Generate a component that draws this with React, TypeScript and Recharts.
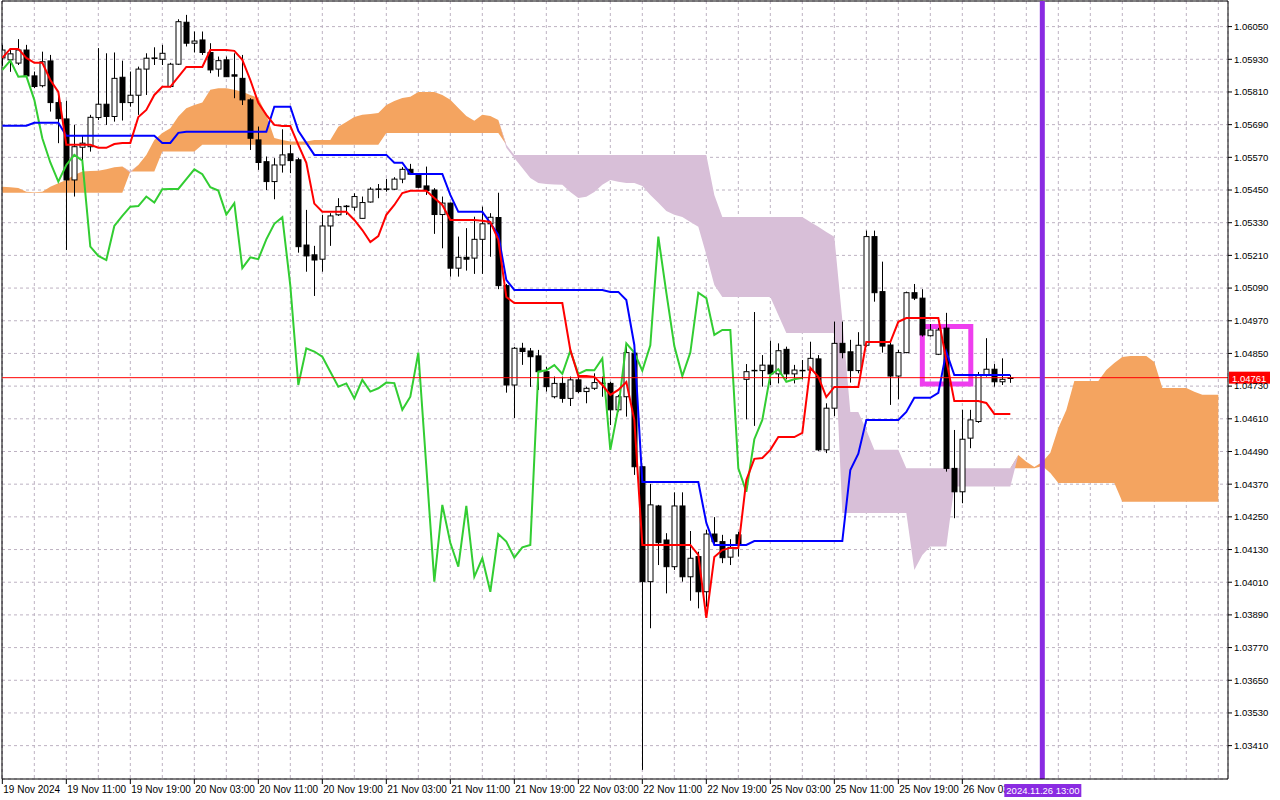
import { ComposedChart, Bar, Line, Area, XAxis, YAxis, CartesianGrid, ReferenceLine, ReferenceArea } from 'recharts';

// EURUSD H1, one entry per hourly bar starting 19 Nov 03:00
const opens = [
  1.05935, 1.05928, 1.05916, 1.05964, 1.05869, 1.05833, 1.05924, 1.05771, 1.05711, 1.05487,
  1.05607, 1.05609, 1.05716, 1.05765, 1.05720, 1.05864, 1.05771, 1.05798, 1.05894, 1.05933,
  1.05930, 1.05830, 1.05912, 1.06066, 1.05989, 1.06001, 1.05955, 1.05894, 1.05928, 1.05873,
  1.05860, 1.05781, 1.05634, 1.05554, 1.05481, 1.05542, 1.05583, 1.05561, 1.05248, 1.05212,
  1.05196, 1.05318, 1.05359, 1.05389, 1.05387, 1.05346, 1.05406, 1.05453, 1.05453, 1.05453,
  1.05490, 1.05526, 1.05508, 1.05465, 1.05450, 1.05360, 1.05402, 1.05163, 1.05203, 1.05200,
  1.05269, 1.05326, 1.05349, 1.05099, 1.04734, 1.04869, 1.04859, 1.04841, 1.04783, 1.04691,
  1.04740, 1.04685, 1.04753, 1.04710, 1.04722, 1.04740, 1.04740, 1.04643, 1.04691, 1.04851,
  1.04434, 1.04012, 1.04290, 1.04165, 1.04067, 1.04290, 1.04030, 1.04104, 1.03975, 1.04187,
  1.04159, 1.04102, 1.04184, 1.04755, 1.04787, 1.04787, 1.04807, 1.04775, 1.04865, 1.04775,
  1.04787, 1.04789, 1.04830, 1.04496, 1.04649, 1.04887, 1.04856, 1.04787, 1.04880, 1.05279,
  1.05077, 1.04881, 1.04767, 1.04853, 1.05073, 1.05053, 1.04915, 1.04847, 1.04943, 1.04428,
  1.04342, 1.04539, 1.04600, 1.04771, 1.04792, 1.04746, 1.04758,
];
const highs = [
  1.05983, 1.05968, 1.06004, 1.05983, 1.05885, 1.05958, 1.05946, 1.05805, 1.05778, 1.05689,
  1.05652, 1.05726, 1.05971, 1.05952, 1.05955, 1.05925, 1.05885, 1.05903, 1.05952, 1.05974,
  1.05983, 1.05917, 1.06077, 1.06093, 1.06032, 1.06032, 1.05989, 1.05940, 1.05940, 1.05952,
  1.05946, 1.05787, 1.05683, 1.05573, 1.05567, 1.05673, 1.05616, 1.05568, 1.05377, 1.05245,
  1.05359, 1.05365, 1.05420, 1.05395, 1.05438, 1.05426, 1.05460, 1.05472, 1.05491, 1.05497,
  1.05534, 1.05546, 1.05512, 1.05536, 1.05457, 1.05426, 1.05404, 1.05279, 1.05310, 1.05352,
  1.05389, 1.05365, 1.05440, 1.05105, 1.04874, 1.04889, 1.04870, 1.04863, 1.04801, 1.04765,
  1.04765, 1.04765, 1.04765, 1.04728, 1.04777, 1.04765, 1.04746, 1.04698, 1.04887, 1.04863,
  1.04437, 1.04371, 1.04294, 1.04190, 1.04340, 1.04340, 1.04198, 1.04122, 1.04202, 1.04249,
  1.04184, 1.04168, 1.04195, 1.04811, 1.05002, 1.04844, 1.04897, 1.04887, 1.04875, 1.04808,
  1.04826, 1.04893, 1.04844, 1.04667, 1.04967, 1.04967, 1.04900, 1.04928, 1.05301, 1.05301,
  1.05187, 1.04890, 1.04863, 1.05077, 1.05105, 1.05086, 1.04958, 1.04944, 1.04999, 1.04569,
  1.04643, 1.04643, 1.04782, 1.04906, 1.04811, 1.04832, 1.04771,
];
const lows = [
  1.05906, 1.05884, 1.05909, 1.05862, 1.05824, 1.05827, 1.05738, 1.05622, 1.05230, 1.05426,
  1.05524, 1.05591, 1.05707, 1.05689, 1.05701, 1.05705, 1.05756, 1.05726, 1.05799, 1.05909,
  1.05909, 1.05827, 1.05909, 1.05977, 1.05955, 1.05946, 1.05879, 1.05866, 1.05865, 1.05787,
  1.05762, 1.05597, 1.05524, 1.05450, 1.05416, 1.05514, 1.05512, 1.05220, 1.05150, 1.05061,
  1.05150, 1.05245, 1.05355, 1.05359, 1.05374, 1.05346, 1.05404, 1.05420, 1.05444, 1.05450,
  1.05475, 1.05505, 1.05457, 1.05432, 1.05289, 1.05236, 1.05132, 1.05132, 1.05154, 1.05142,
  1.05142, 1.05205, 1.05086, 1.04706, 1.04613, 1.04808, 1.04727, 1.04716, 1.04710, 1.04685,
  1.04669, 1.04657, 1.04704, 1.04667, 1.04716, 1.04691, 1.04587, 1.04636, 1.04618, 1.04404,
  1.03321, 1.03841, 1.04073, 1.03969, 1.04055, 1.04012, 1.03942, 1.03914, 1.03920, 1.04147,
  1.04080, 1.04073, 1.04104, 1.04608, 1.04584, 1.04728, 1.04734, 1.04740, 1.04755, 1.04740,
  1.04755, 1.04777, 1.04492, 1.04484, 1.04620, 1.04832, 1.04743, 1.04777, 1.04875, 1.05040,
  1.04853, 1.04661, 1.04682, 1.04851, 1.05046, 1.04912, 1.04912, 1.04844, 1.04416, 1.04245,
  1.04300, 1.04502, 1.04595, 1.04765, 1.04728, 1.04734, 1.04742,
];
const closes = [
  1.05964, 1.05950, 1.05964, 1.05869, 1.05830, 1.05921, 1.05771, 1.05712, 1.05487, 1.05609,
  1.05622, 1.05717, 1.05765, 1.05720, 1.05860, 1.05771, 1.05798, 1.05894, 1.05934, 1.05935,
  1.05952, 1.05912, 1.06068, 1.05989, 1.05997, 1.05955, 1.05891, 1.05925, 1.05866, 1.05868,
  1.05781, 1.05640, 1.05551, 1.05481, 1.05542, 1.05579, 1.05558, 1.05242, 1.05208, 1.05193,
  1.05318, 1.05355, 1.05389, 1.05391, 1.05426, 1.05404, 1.05453, 1.05454, 1.05454, 1.05490,
  1.05526, 1.05508, 1.05460, 1.05448, 1.05360, 1.05402, 1.05163, 1.05203, 1.05196, 1.05269,
  1.05326, 1.05350, 1.05099, 1.04734, 1.04869, 1.04857, 1.04838, 1.04783, 1.04728, 1.04740,
  1.04685, 1.04753, 1.04710, 1.04722, 1.04743, 1.04741, 1.04643, 1.04691, 1.04853, 1.04434,
  1.04012, 1.04294, 1.04155, 1.04067, 1.04290, 1.04030, 1.04098, 1.03975, 1.04187, 1.04159,
  1.04100, 1.04138, 1.04147, 1.04783, 1.04788, 1.04807, 1.04775, 1.04860, 1.04775, 1.04789,
  1.04788, 1.04832, 1.04496, 1.04649, 1.04887, 1.04853, 1.04787, 1.04880, 1.05279, 1.05073,
  1.04877, 1.04767, 1.04853, 1.05073, 1.05053, 1.04918, 1.04936, 1.04936, 1.04428, 1.04342,
  1.04535, 1.04606, 1.04771, 1.04792, 1.04746, 1.04755, 1.04761,
];

// Ichimoku lines
const tenkan = [
  1.05935, 1.05968, 1.05968, 1.05935, 1.05917, 1.05917, 1.05854, 1.05810, 1.05616, 1.05616,
  1.05616, 1.05616, 1.05605, 1.05605, 1.05619, 1.05623, 1.05623, 1.05718, 1.05744, 1.05799,
  1.05829, 1.05829, 1.05865, 1.05902, 1.05902, 1.05902, 1.05964, 1.05964, 1.05964, 1.05961,
  1.05928, 1.05854, 1.05770, 1.05726, 1.05689, 1.05685, 1.05685, 1.05616, 1.05550, 1.05400,
  1.05370, 1.05370, 1.05370, 1.05370, 1.05340, 1.05303, 1.05259, 1.05281, 1.05359, 1.05395,
  1.05439, 1.05447, 1.05447, 1.05447, 1.05421, 1.05395, 1.05340, 1.05340, 1.05340, 1.05340,
  1.05337, 1.05333, 1.05267, 1.05057, 1.05035, 1.05035, 1.05035, 1.05035, 1.05035, 1.05035,
  1.05035, 1.04863, 1.04767, 1.04767, 1.04764, 1.04734, 1.04698, 1.04716, 1.04745, 1.04606,
  1.04147, 1.04147, 1.04147, 1.04147, 1.04147, 1.04147, 1.04147, 1.04110, 1.03879, 1.04103,
  1.04128, 1.04136, 1.04136, 1.04385, 1.04463, 1.04466, 1.04496, 1.04543, 1.04543, 1.04543,
  1.04558, 1.04797, 1.04764, 1.04690, 1.04727, 1.04727, 1.04727, 1.04727, 1.04892, 1.04892,
  1.04892, 1.04892, 1.04966, 1.04980, 1.04980, 1.04980, 1.04980, 1.04980, 1.04826, 1.04675,
  1.04675, 1.04675, 1.04675, 1.04668, 1.04628, 1.04628, 1.04628,
];
const kijun = [
  1.05686, 1.05686, 1.05686, 1.05686, 1.05697, 1.05697, 1.05697, 1.05697, 1.05649, 1.05649,
  1.05649, 1.05649, 1.05649, 1.05649, 1.05649, 1.05649, 1.05649, 1.05649, 1.05649, 1.05649,
  1.05623, 1.05623, 1.05660, 1.05664, 1.05664, 1.05664, 1.05664, 1.05664, 1.05664, 1.05664,
  1.05664, 1.05664, 1.05664, 1.05664, 1.05756, 1.05756, 1.05756, 1.05667, 1.05623, 1.05579,
  1.05579, 1.05579, 1.05579, 1.05579, 1.05579, 1.05579, 1.05579, 1.05579, 1.05579, 1.05550,
  1.05550, 1.05509, 1.05509, 1.05509, 1.05509, 1.05509, 1.05432, 1.05370, 1.05370, 1.05370,
  1.05370, 1.05329, 1.05285, 1.05120, 1.05083, 1.05083, 1.05083, 1.05083, 1.05083, 1.05083,
  1.05083, 1.05083, 1.05083, 1.05083, 1.05083, 1.05083, 1.05076, 1.05076, 1.05046, 1.04881,
  1.04378, 1.04378, 1.04378, 1.04378, 1.04378, 1.04378, 1.04378, 1.04378, 1.04228, 1.04147,
  1.04147, 1.04147, 1.04147, 1.04147, 1.04161, 1.04161, 1.04161, 1.04161, 1.04161, 1.04161,
  1.04161, 1.04161, 1.04161, 1.04161, 1.04161, 1.04161, 1.04422, 1.04482, 1.04606, 1.04606,
  1.04606, 1.04606, 1.04606, 1.04635, 1.04687, 1.04687, 1.04687, 1.04705, 1.04856, 1.04771,
  1.04771, 1.04771, 1.04771, 1.04771, 1.04771, 1.04771, 1.04771,
];
// senkou spans run 26 bars past the last candle
const senkouA = [
  1.05462, 1.05460, 1.05457, 1.05444, 1.05442, 1.05444, 1.05462, 1.05475, 1.05487, 1.05505,
  1.05518, 1.05520, 1.05521, 1.05526, 1.05534, 1.05536, 1.05513, 1.05542, 1.05579, 1.05634,
  1.05659, 1.05677, 1.05720, 1.05750, 1.05762, 1.05771, 1.05818, 1.05824, 1.05824, 1.05818,
  1.05811, 1.05799, 1.05788, 1.05726, 1.05641, 1.05634, 1.05628, 1.05628, 1.05628, 1.05634,
  1.05634, 1.05634, 1.05682, 1.05700, 1.05718, 1.05726, 1.05729, 1.05733, 1.05762, 1.05777,
  1.05788, 1.05792, 1.05810, 1.05810, 1.05810, 1.05799, 1.05781, 1.05751, 1.05722, 1.05704,
  1.05726, 1.05722, 1.05707, 1.05605, 1.05568, 1.05531, 1.05494, 1.05476, 1.05472, 1.05470,
  1.05469, 1.05443, 1.05421, 1.05425, 1.05443, 1.05469, 1.05487, 1.05480, 1.05476, 1.05476,
  1.05465, 1.05432, 1.05403, 1.05373, 1.05359, 1.05351, 1.05333, 1.05315, 1.05212, 1.05101,
  1.05057, 1.05057, 1.05057, 1.05057, 1.05057, 1.05057, 1.05057, 1.04991, 1.04925, 1.04925,
  1.04925, 1.04925, 1.04925, 1.04925, 1.04925, 1.04264, 1.04264, 1.04264, 1.04264, 1.04264,
  1.04264, 1.04264, 1.04264, 1.04264, 1.04055, 1.04110, 1.04141, 1.04141, 1.04141, 1.04361,
  1.04361, 1.04361, 1.04361, 1.04361, 1.04361, 1.04361, 1.04361, 1.04477, 1.04452, 1.04433,
  1.04451, 1.04485, 1.04576, 1.04642, 1.04749, 1.04749, 1.04749, 1.04749, 1.04789, 1.04815,
  1.04837, 1.04841, 1.04841, 1.04841, 1.04819, 1.04723, 1.04723, 1.04723, 1.04723, 1.04709,
  1.04698, 1.04698, 1.04698,
];
const senkouB = [
  1.05440, 1.05440, 1.05440, 1.05440, 1.05440, 1.05440, 1.05440, 1.05440, 1.05440, 1.05440,
  1.05440, 1.05440, 1.05440, 1.05440, 1.05440, 1.05440, 1.05518, 1.05518, 1.05518, 1.05518,
  1.05591, 1.05591, 1.05591, 1.05591, 1.05591, 1.05616, 1.05616, 1.05616, 1.05616, 1.05616,
  1.05616, 1.05616, 1.05616, 1.05616, 1.05616, 1.05616, 1.05616, 1.05616, 1.05616, 1.05616,
  1.05616, 1.05616, 1.05616, 1.05616, 1.05616, 1.05616, 1.05616, 1.05616, 1.05659, 1.05659,
  1.05659, 1.05659, 1.05659, 1.05659, 1.05659, 1.05659, 1.05659, 1.05659, 1.05659, 1.05659,
  1.05659, 1.05659, 1.05659, 1.05616, 1.05579, 1.05579, 1.05579, 1.05579, 1.05579, 1.05579,
  1.05579, 1.05579, 1.05579, 1.05579, 1.05579, 1.05579, 1.05579, 1.05579, 1.05579, 1.05579,
  1.05579, 1.05579, 1.05579, 1.05579, 1.05579, 1.05579, 1.05579, 1.05579, 1.05579, 1.05432,
  1.05351, 1.05351, 1.05351, 1.05351, 1.05351, 1.05351, 1.05351, 1.05351, 1.05351, 1.05351,
  1.05351, 1.05333, 1.05315, 1.05296, 1.05278, 1.04973, 1.04635, 1.04635, 1.04569, 1.04496,
  1.04496, 1.04496, 1.04496, 1.04428, 1.04428, 1.04428, 1.04428, 1.04428, 1.04428, 1.04428,
  1.04428, 1.04428, 1.04428, 1.04428, 1.04428, 1.04428, 1.04428, 1.04428, 1.04428, 1.04428,
  1.04437, 1.04411, 1.04374, 1.04374, 1.04374, 1.04374, 1.04374, 1.04374, 1.04374, 1.04374,
  1.04305, 1.04305, 1.04305, 1.04305, 1.04305, 1.04305, 1.04305, 1.04305, 1.04305, 1.04305,
  1.04305, 1.04305, 1.04305,
];
const CHIKOU_SHIFT = 26;

const tickBars = [0, 8, 16, 24, 32, 40, 48, 56, 64, 72, 80, 88, 96, 104, 112, 120];
const tickLabels = [
  '19 Nov 2024', '19 Nov 11:00', '19 Nov 19:00', '20 Nov 03:00', '20 Nov 11:00', '20 Nov 19:00',
  '21 Nov 03:00', '21 Nov 11:00', '21 Nov 19:00', '22 Nov 03:00', '22 Nov 11:00', '22 Nov 19:00',
  '25 Nov 03:00', '25 Nov 11:00', '25 Nov 19:00', '26 Nov 03:00',
];
const gridBars = [
  0, 4, 8, 12, 16, 20, 24, 28, 32, 36, 40, 44, 48, 52, 56, 60, 64, 68, 72, 76,
  80, 84, 88, 92, 96, 100, 104, 108, 112, 116, 120, 124, 128, 130, 132, 136, 140, 144, 148, 152,
];
const priceTicks = [
  1.0605, 1.0593, 1.0581, 1.0569, 1.0557, 1.0545, 1.0533, 1.0521, 1.0509, 1.0497, 1.0485, 1.0473,
  1.0461, 1.0449, 1.0437, 1.0425, 1.0413, 1.0401, 1.0389, 1.0377, 1.0365, 1.0353, 1.0341,
];

const LAST_PRICE = 1.04761;
const MARK_BAR = 130;
const MARK_LABEL = '2024.11.26 13:00';
const BOX = { x1: 115, x2: 121.06, y1: 1.04738, y2: 1.04949 };

const X_MIN = -0.04;
const X_MAX = 153.21;
const Y_MIN = 1.032875;
const Y_MAX = 1.06144;

const FONT = '"Liberation Sans", Arial, sans-serif';

const rows = senkouA.map((a, i) => {
  const b = senkouB[i];
  const has = i < closes.length;
  return {
    i,
    range: has ? [lows[i], highs[i]] : null,
    o: has ? opens[i] : null,
    h: has ? highs[i] : null,
    l: has ? lows[i] : null,
    c: has ? closes[i] : null,
    tenkan: i < tenkan.length ? tenkan[i] : null,
    kijun: i < kijun.length ? kijun[i] : null,
    chikou: i + CHIKOU_SHIFT < closes.length ? closes[i + CHIKOU_SHIFT] : null,
    bull: [b, Math.max(a, b)],
    bear: [a, Math.max(a, b)],
  };
});

function Candle(props: any) {
  const { x, width, payload } = props;
  let { y, height } = props;
  if (!payload || payload.o == null) return null;
  if (height < 0) {
    y += height;
    height = -height;
  }
  const { o, h, l, c } = payload;
  const k = h === l ? 0 : height / (h - l);
  const py = (v: number) => y + (h - v) * k;
  const cx = Math.round(x + width / 2) + 0.5;
  const top = py(Math.max(o, c));
  const bot = py(Math.min(o, c));
  const bull = c >= o;
  return (
    <g>
      <line x1={cx} x2={cx} y1={y} y2={y + height} stroke="#000" strokeWidth={1} />
      <rect
        x={cx - 2.5}
        y={top}
        width={5}
        height={Math.max(bot - top, 0.5)}
        fill={bull ? '#fff' : '#000'}
        stroke="#000"
        strokeWidth={1}
      />
    </g>
  );
}

// time labels under the axis; the marker label is drawn last so it covers its neighbour
function XTick(props: any) {
  const { x, y, payload } = props;
  if (payload.value === MARK_BAR) {
    return (
      <g>
        <rect x={x - 38} y={y + 5} width={77} height={13} fill="#8A2BE2" />
        <text x={x - 36} y={y + 15} fontSize={9.5} fontFamily={FONT} fill="#fff">
          {MARK_LABEL}
        </text>
      </g>
    );
  }
  const idx = tickBars.indexOf(payload.value);
  if (idx < 0) return null;
  return (
    <g>
      <line x1={x} x2={x} y1={y} y2={y + 5} stroke="#000" />
      <text x={x + 1} y={y + 14} fontSize={10} fontFamily={FONT} fill="#000">
        {tickLabels[idx]}
      </text>
    </g>
  );
}

function PriceLabel(props: any) {
  const { viewBox } = props;
  if (!viewBox) return null;
  const x = viewBox.x + viewBox.width + 1;
  const y = viewBox.y;
  return (
    <g>
      <rect x={x} y={y - 6} width={41} height={12} fill="#FF0000" />
      <text x={x + 3} y={y + 4} fontSize={9.5} fontFamily={FONT} fill="#fff">
        {LAST_PRICE.toFixed(5)}
      </text>
    </g>
  );
}

export default function App() {
  return (
    <div style={{ position: 'absolute', left: 0, top: 0, width: 1280, height: 800, background: '#fff' }}>
      <ComposedChart width={1280} height={800} data={rows} margin={{ top: 1, right: 0, bottom: 0, left: 2 }}>
        <CartesianGrid stroke="#BDB2C2" strokeDasharray="3 3" />
        <XAxis
          dataKey="i"
          type="number"
          domain={[X_MIN, X_MAX]}
          allowDataOverflow
          ticks={gridBars}
          interval={0}
          height={21}
          tickLine={false}
          tickSize={0}
          tickMargin={0}
          axisLine={{ stroke: '#000' }}
          tick={<XTick />}
        />
        <YAxis
          orientation="right"
          domain={[Y_MIN, Y_MAX]}
          allowDataOverflow
          ticks={priceTicks}
          interval={0}
          width={52}
          tickSize={4}
          tickMargin={2}
          axisLine={{ stroke: '#000' }}
          tickLine={{ stroke: '#000' }}
          tick={{ fill: '#000', fontSize: 9.5, fontFamily: FONT }}
          tickFormatter={(v: number) => v.toFixed(5)}
        />
        <Area dataKey="bull" type="linear" stroke="none" fill="#F4A460" fillOpacity={1} isAnimationActive={false} />
        <Area dataKey="bear" type="linear" stroke="none" fill="#D8BFD8" fillOpacity={1} isAnimationActive={false} />
        <ReferenceLine x={X_MIN} stroke="#000" ifOverflow="visible" />
        <ReferenceLine y={Y_MAX} stroke="#000" ifOverflow="visible" />
        <Bar dataKey="range" barSize={6} shape={(p: any) => <Candle {...p} />} isAnimationActive={false} />
        <Line dataKey="chikou" type="linear" stroke="#32CD32" strokeWidth={2} dot={false} activeDot={false} isAnimationActive={false} />
        <Line dataKey="kijun" type="linear" stroke="#0000FF" strokeWidth={2} dot={false} activeDot={false} isAnimationActive={false} />
        <Line dataKey="tenkan" type="linear" stroke="#FF0000" strokeWidth={2} dot={false} activeDot={false} isAnimationActive={false} />
        <ReferenceArea
          x1={BOX.x1}
          x2={BOX.x2}
          y1={BOX.y1}
          y2={BOX.y2}
          fill="none"
          fillOpacity={0}
          stroke="#EE3EEE"
          strokeWidth={5}
        />
        <ReferenceLine y={LAST_PRICE} stroke="#FF0000" strokeWidth={1} label={<PriceLabel />} />
        <ReferenceLine x={MARK_BAR} stroke="#8A2BE2" strokeWidth={5} />
      </ComposedChart>
    </div>
  );
}
